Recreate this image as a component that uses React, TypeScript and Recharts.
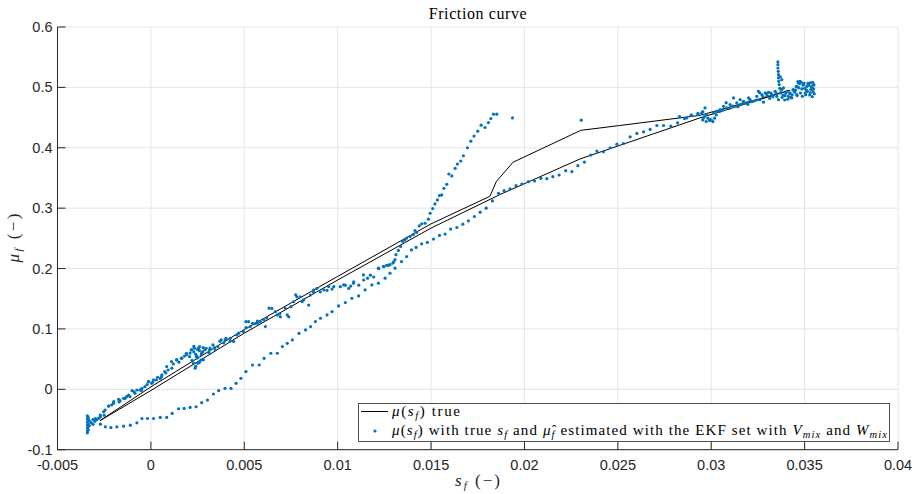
import React from "react"
import { ComposedChart, XAxis, YAxis, CartesianGrid, Line, Scatter } from "recharts"

const AXIS = "#262626"
const GRID = "#e5e5e5"
const BLUE = "#0072BD"
const SANS = "'Liberation Sans', Arial, sans-serif"
const SERIF = "'Liberation Serif', 'Times New Roman', serif"

const xTicks = [-0.005, 0, 0.005, 0.01, 0.015, 0.02, 0.025, 0.03, 0.035, 0.04]
const xTickLabels = ["-0.005", "0", "0.005", "0.01", "0.015", "0.02", "0.025", "0.03", "0.035", "0.04"]
const yTicks = [-0.1, 0, 0.1, 0.2, 0.3, 0.4, 0.5, 0.6]
const yTickLabels = ["-0.1", "0", "0.1", "0.2", "0.3", "0.4", "0.5", "0.6"]

// true mu(s_f): up the upper branch, back down the lower one
const trueCurve = [
  [-0.00273, -0.052], [0, 0.004], [0.005, 0.099], [0.01, 0.187], [0.015, 0.274],
  [0.01815, 0.3196], [0.0185, 0.3444], [0.01939, 0.376], [0.02302, 0.4289],
  [0.02504, 0.4366], [0.02939, 0.4537], [0.0342, 0.495],
  [0.02939, 0.4494], [0.02298, 0.3815], [0.01868, 0.3224], [0.015, 0.267],
  [0.01, 0.181], [0.005, 0.093], [0, -0.002], [-0.00273, -0.052],
]

// EKF estimate, read off in pieces
const startCluster = [
  [-0.0034, -0.044], [-0.0034, -0.049], [-0.0034, -0.054], [-0.0034, -0.059], [-0.0034, -0.064],
  [-0.0034, -0.069], [-0.0034, -0.072], [-0.00335, -0.047], [-0.00335, -0.057], [-0.00335, -0.062],
  [-0.00335, -0.067], [-0.0033, -0.052], [-0.0033, -0.06], [-0.0032, -0.055], [-0.0031, -0.05],
  [-0.0031, -0.058], [-0.003, -0.053], [-0.0029, -0.05], [-0.0028, -0.048],
]

const noisyLow = [
  [-0.00297, -0.0483], [-0.0027, -0.0455], [-0.00253, -0.0372], [-0.00226, -0.0278], [-0.00199, -0.0205],
  [-0.00173, -0.0167], [-0.00146, -0.015], [-0.00119, -0.0094], [-0.00101, -0.0022], [-0.00075, -0.0011],
  [-0.00048, 0.0017], [-0.00012, 0.0128], [0.00014, 0.0155], [0.00036, 0.02], [0.00059, 0.0239],
  [0.00085, 0.0377], [0.00112, 0.035], [0.00139, 0.0488], [0.00166, 0.0516], [0.00192, 0.0572],
  [0.00219, 0.0655], [0.00228, 0.0433], [0.00237, 0.035], [0.00246, 0.0544], [0.00255, 0.0683],
  [0.00272, 0.0599], [0.00281, 0.0488], [0.0029, 0.0655], [0.00317, 0.0683], [0.00344, 0.0655],
  [0.0037, 0.0794], [0.00397, 0.0821], [0.00424, 0.0794],
  [-0.00271, -0.0425], [-0.00245, -0.0343], [-0.00227, -0.0276], [-0.002, -0.0232], [-0.00165, -0.0188],
  [-0.00138, -0.0149], [-0.00112, -0.0122], [-0.00085, -0.0066], [-0.00059, -0.0011], [-0.00032, 0.0044],
  [-0.00014, 0.0127], [0.00004, 0.0099], [0.0003, 0.0155], [0.00057, 0.021], [0.00074, 0.0293],
  [0.00092, 0.032], [0.0011, 0.0459], [0.00137, 0.0486], [0.00163, 0.0514], [0.0019, 0.0597],
  [0.00207, 0.0541], [0.00216, 0.0652], [0.00234, 0.068], [0.00243, 0.0541], [0.00252, 0.0431],
  [0.00261, 0.0707], [0.00269, 0.0486], [0.00278, 0.0624], [0.00296, 0.068], [0.00314, 0.0652],
  [0.00332, 0.0735], [0.00358, 0.0707], [0.00376, 0.0818], [0.00402, 0.0845],
  [0.0021, 0.06], [0.0022, 0.048], [0.0023, 0.062], [0.0024, 0.058], [0.0025, 0.052], [0.0026, 0.064],
  [0.0027, 0.057], [0.0028, 0.069], [0.0024, 0.038], [0.0026, 0.045], [0.0023, 0.071], [0.0025, 0.066],
  [-0.0025, -0.043], [-0.0021, -0.026], [-0.0017, -0.021], [-0.0013, -0.012], [-0.0009, -0.004],
  [-0.0005, -0.002], [-0.0002, 0.008], [0.0001, 0.012], [0.0005, 0.018], [0.0008, 0.027],
  [0.0012, 0.042], [0.0015, 0.045], [0.0018, 0.055], [0.0031, 0.061], [0.0034, 0.069], [0.0039, 0.077],
]

const noisyMid = [
  [0.00425, 0.0845], [0.00443, 0.079], [0.00461, 0.09], [0.00496, 0.0955], [0.00523, 0.112],
  [0.00532, 0.104], [0.00559, 0.109], [0.00586, 0.112], [0.00613, 0.104], [0.00604, 0.115],
  [0.00648, 0.134], [0.00666, 0.1285], [0.00693, 0.12], [0.0072, 0.134], [0.00738, 0.12],
  [0.00764, 0.145], [0.00782, 0.153], [0.008, 0.153], [0.00818, 0.148], [0.00845, 0.1395],
  [0.00854, 0.156], [0.00889, 0.167], [0.00907, 0.1615], [0.00943, 0.164], [0.00979, 0.17],
  [0.01014, 0.17], [0.01041, 0.1725], [0.01059, 0.167], [0.01086, 0.178], [0.01113, 0.1725],
  [0.01139, 0.181], [0.01175, 0.189], [0.01193, 0.186], [0.0122, 0.2], [0.01247, 0.203],
  [0.01273, 0.2055], [0.013, 0.211],
  [0.00509, 0.1122], [0.00544, 0.1094], [0.00571, 0.1094], [0.00633, 0.1343], [0.00677, 0.1232],
  [0.0073, 0.1232], [0.00775, 0.1564], [0.0081, 0.1453], [0.00872, 0.1646], [0.00926, 0.1646],
  [0.00952, 0.1702], [0.01032, 0.1729], [0.01085, 0.1757], [0.01138, 0.1895], [0.01218, 0.2006],
  [0.0047, 0.093], [0.0051, 0.102], [0.0057, 0.113], [0.0062, 0.118], [0.0069, 0.125],
  [0.0075, 0.137], [0.0087, 0.161], [0.0097, 0.166], [0.0107, 0.171], [0.0116, 0.184],
]

const steepTrail = [
  [0.01245, 0.2036], [0.01262, 0.2053], [0.0128, 0.2064], [0.01295, 0.209], [0.01307, 0.2147],
  [0.01312, 0.2229], [0.01325, 0.23], [0.01337, 0.2367], [0.01348, 0.245], [0.0136, 0.2476],
  [0.0137, 0.2504], [0.01388, 0.253], [0.01405, 0.256], [0.01414, 0.263], [0.01423, 0.2597],
  [0.01437, 0.2707], [0.0145, 0.274], [0.01468, 0.275], [0.01486, 0.2817], [0.01495, 0.2916],
  [0.01509, 0.2993], [0.01521, 0.307], [0.01534, 0.3136], [0.01545, 0.3208], [0.01557, 0.3219],
  [0.01569, 0.3329], [0.01584, 0.3395], [0.01595, 0.3566], [0.01611, 0.3533], [0.01629, 0.3659],
  [0.01641, 0.373], [0.01659, 0.378], [0.01673, 0.3868], [0.01695, 0.4], [0.01713, 0.411],
  [0.0173, 0.4193], [0.0175, 0.4275], [0.01768, 0.4374], [0.01789, 0.4336], [0.01807, 0.4418],
  [0.0182, 0.4484], [0.01834, 0.4556], [0.01852, 0.4556],
]

const lowerTrail = [
  [-0.0027, -0.0577], [-0.00244, -0.0622], [-0.00214, -0.0633], [-0.00182, -0.0622], [-0.00146, -0.061],
  [-0.0011, -0.0594], [-0.00075, -0.0555], [-0.00048, -0.0483], [-0.00018, -0.0483], [0.00014, -0.0483],
  [0.0005, -0.0466], [0.00085, -0.0466], [0.00114, -0.04], [0.00148, -0.0322], [0.00178, -0.0316],
  [0.0021, -0.03], [0.00242, -0.0289], [0.00272, -0.0222], [0.00303, -0.0178], [0.00335, -0.0078],
  [0.00363, -0.0022], [0.00397, 0.0017], [0.00429, 0.0017], [0.00456, 0.0099], [0.00482, 0.0182],
  [0.00509, 0.0293], [0.00544, 0.0403], [0.0058, 0.0403], [0.00606, 0.0514], [0.00642, 0.0597],
  [0.00677, 0.0597], [0.00704, 0.0707], [0.0073, 0.0762], [0.00757, 0.0818], [0.00793, 0.0928],
  [0.00828, 0.0983], [0.00855, 0.1039], [0.00881, 0.1122], [0.00908, 0.1177], [0.00943, 0.1232],
  [0.0097, 0.1287], [0.01005, 0.1381], [0.01041, 0.1436], [0.01076, 0.1508], [0.01112, 0.1547],
  [0.01147, 0.1646], [0.01183, 0.1729], [0.01218, 0.1757], [0.01254, 0.184], [0.0128, 0.1923],
  [0.01307, 0.2006], [0.01342, 0.2116], [0.01369, 0.2199], [0.01395, 0.2309],
]

const returnTrail = [
  [0.0142, 0.235], [0.0145, 0.241], [0.0148, 0.2433], [0.01513, 0.2488], [0.01545, 0.2548],
  [0.01575, 0.257], [0.01605, 0.2653], [0.01638, 0.268], [0.0167, 0.2735], [0.017, 0.279],
  [0.01732, 0.2862], [0.01763, 0.2933], [0.01795, 0.2999], [0.01829, 0.312], [0.01861, 0.3247],
  [0.01891, 0.329], [0.01923, 0.3318], [0.01955, 0.3373], [0.01986, 0.34], [0.02021, 0.3439],
  [0.02054, 0.345], [0.02088, 0.3494], [0.0212, 0.3489], [0.02152, 0.3522], [0.02186, 0.3549],
  [0.02221, 0.362], [0.02254, 0.3604], [0.02286, 0.3703], [0.02321, 0.3763], [0.02355, 0.3879],
  [0.02388, 0.3945], [0.02423, 0.3934], [0.02459, 0.4], [0.02495, 0.406], [0.0253, 0.4071],
  [0.02566, 0.4182], [0.02602, 0.4237], [0.02638, 0.4264], [0.02673, 0.4303], [0.02709, 0.4369],
  [0.02745, 0.4369], [0.02784, 0.4358], [0.0282, 0.4413], [0.02857, 0.4484], [0.02893, 0.4534],
  [0.02929, 0.455],
]

const strayPoints = [[0.01936, 0.4495], [0.02304, 0.4457]]

const rightCluster = [
  [0.0283, 0.4516], [0.02869, 0.4494], [0.02893, 0.4544], [0.02929, 0.4571], [0.02955, 0.46],
  [0.02964, 0.4516], [0.02967, 0.466], [0.02982, 0.449], [0.03, 0.446], [0.03009, 0.4434],
  [0.02955, 0.4461], [0.02973, 0.4434], [0.02991, 0.445], [0.03018, 0.449], [0.03027, 0.4544],
  [0.03045, 0.46], [0.03063, 0.4626], [0.0308, 0.4747], [0.03098, 0.4654], [0.03116, 0.4692],
  [0.03143, 0.468], [0.0317, 0.4736], [0.03196, 0.472], [0.03214, 0.4763], [0.03241, 0.479],
  [0.03259, 0.4912], [0.03277, 0.4846], [0.03295, 0.49], [0.03313, 0.4818], [0.0333, 0.4846],
  [0.03348, 0.49],
  [0.02949, 0.4577], [0.02958, 0.4494], [0.02976, 0.4549], [0.02994, 0.4466], [0.03012, 0.4577],
  [0.0303, 0.4604], [0.03048, 0.4632], [0.03066, 0.4687], [0.03083, 0.466], [0.03101, 0.4715],
  [0.03119, 0.4687], [0.03137, 0.4743], [0.03155, 0.4715], [0.03173, 0.477], [0.0319, 0.4743],
  [0.03208, 0.4797], [0.03226, 0.477], [0.03244, 0.4852], [0.03253, 0.4935], [0.03271, 0.488],
  [0.03289, 0.4908], [0.03307, 0.4919], [0.03324, 0.488], [0.03342, 0.4935], [0.03351, 0.4852],
  [0.0336, 0.4797], [0.03369, 0.4908], [0.03378, 0.4963], [0.03387, 0.4991], [0.03405, 0.4935],
  [0.03422, 0.4908], [0.0344, 0.4963], [0.03458, 0.5018], [0.03467, 0.5074], [0.03476, 0.51],
  [0.03494, 0.5046], [0.03512, 0.5018], [0.0353, 0.5074], [0.03539, 0.4991], [0.03547, 0.5046],
  [0.0353, 0.4908], [0.03506, 0.488], [0.03488, 0.4852], [0.03458, 0.488], [0.03431, 0.4825],
  [0.03413, 0.4852], [0.03119, 0.4825], [0.03155, 0.4797], [0.032, 0.4825],
  [0.0342, 0.49], [0.03438, 0.4956], [0.03455, 0.5011], [0.03464, 0.5094], [0.03473, 0.5066],
  [0.03491, 0.5039], [0.035, 0.4984], [0.03509, 0.4956], [0.03518, 0.5066], [0.03527, 0.4874],
  [0.03536, 0.5011], [0.03545, 0.4929], [0.0355, 0.5039], [0.03541, 0.4846],
  [0.03425, 0.4835], [0.03433, 0.4875], [0.03447, 0.492], [0.0346, 0.4865], [0.03478, 0.4905],
  [0.03485, 0.4975], [0.03497, 0.5065], [0.03503, 0.4905], [0.03515, 0.4935], [0.03522, 0.5035],
  [0.03533, 0.4965], [0.03543, 0.5085], [0.03548, 0.4975], [0.03552, 0.4895], [0.03482, 0.5085],
  [0.03468, 0.4995], [0.03452, 0.4955], [0.0338, 0.4835], [0.03395, 0.4865], [0.0341, 0.4805],
  [0.034, 0.4905], [0.0326, 0.4795], [0.0328, 0.4755], [0.033, 0.4865], [0.0332, 0.4905],
]

const spike = [
  [0.03357, 0.5424], [0.03357, 0.5376], [0.03357, 0.5321], [0.03359, 0.5266], [0.0336, 0.5211],
  [0.0336, 0.5156], [0.03362, 0.51], [0.03364, 0.5046], [0.03368, 0.4984], [0.03375, 0.4956],
  [0.03384, 0.4874], [0.03393, 0.4791], [0.03378, 0.5128], [0.0337, 0.5176],
]

const toPoints = (pairs: number[][]) => pairs.map(([s, mu]) => ({ s, mu }))

const trueData = toPoints(trueCurve)
const ekfData = toPoints([
  ...startCluster, ...noisyLow, ...noisyMid, ...steepTrail,
  ...lowerTrail, ...returnTrail, ...strayPoints, ...rightCluster, ...spike,
])

const labelFor = (ticks: number[], labels: string[], v: number) => {
  const i = ticks.findIndex((t) => Math.abs(t - v) < 1e-9)
  return i >= 0 ? labels[i] : String(v)
}

const XTick = ({ x, y, payload }: any) => (
  <g>
    <line x1={x} x2={x} y1={y} y2={y - 8} stroke={AXIS} strokeWidth={1} />
    <text x={x} y={y + 20} textAnchor="middle" fontFamily={SANS} fontSize={14.5} fill={AXIS}>
      {labelFor(xTicks, xTickLabels, payload.value)}
    </text>
  </g>
)

const YTick = ({ x, y, payload }: any) => (
  <g>
    <line x1={x} x2={x + 8} y1={y} y2={y} stroke={AXIS} strokeWidth={1} />
    <text x={x - 5} y={y + 5} textAnchor="end" fontFamily={SANS} fontSize={14.5} fill={AXIS}>
      {labelFor(yTicks, yTickLabels, payload.value)}
    </text>
  </g>
)

// text made of roman / italic / italic-subscript pieces
type Seg = [string, "r" | "i" | "s"]
const MathText = ({ segs, subSize, ...rest }: any) => {
  let down = false
  return (
    <text {...rest}>
      {segs.map(([t, k]: Seg, i: number) => {
        const sub = k === "s"
        const dy = sub && !down ? 3 : !sub && down ? -3 : undefined
        down = sub
        return (
          <tspan key={i} dy={dy} fontStyle={k === "r" ? "normal" : "italic"} fontSize={sub ? subSize : undefined}>
            {t}
          </tspan>
        )
      })}
    </text>
  )
}

const xLabel: Seg[] = [["s", "i"], ["f", "s"], [" (−)", "r"]]
const yLabel: Seg[] = [["μ", "i"], ["f", "s"], [" (−)", "r"]]
const legendTrue: Seg[] = [["μ", "i"], ["(", "r"], ["s", "i"], ["f", "s"], [") true", "r"]]
const legendEkf: Seg[] = [
  ["μ", "i"], ["(", "r"], ["s", "i"], ["f", "s"], [") with true ", "r"], ["s", "i"], ["f", "s"],
  [" and ", "r"], ["μ\u0302", "i"], ["f", "s"], [" estimated with the EKF set with ", "r"],
  ["V", "i"], ["mix", "s"], [" and ", "r"], ["W", "i"], ["mix", "s"],
]

const Dot = (props: any) => <circle cx={props.cx} cy={props.cy} r={1.6} fill={BLUE} />

export default function App() {
  return (
    <div style={{ position: "relative", width: 917, height: 494, overflow: "hidden", background: "#fff" }}>
      <style>{"html, body { margin: 0; padding: 0; overflow: hidden; }"}</style>
      <ComposedChart width={917} height={494} data={trueData}
        margin={{ top: 27, right: 19, bottom: 0, left: 0 }}>
        <CartesianGrid stroke={GRID} strokeWidth={1} />
        <XAxis dataKey="s" type="number" domain={[-0.005, 0.04]} ticks={xTicks}
          height={44.3} allowDataOverflow stroke={AXIS} tickLine={false} tickSize={0} tickMargin={0}
          tick={<XTick />} interval={0} />
        <YAxis dataKey="mu" type="number" domain={[-0.1, 0.6]} ticks={yTicks}
          width={57.5} allowDataOverflow stroke={AXIS} tickLine={false} tickSize={0} tickMargin={0}
          tick={<YTick />} interval={0} />
        <Line data={trueData} dataKey="mu" stroke="#000" strokeWidth={1} dot={false}
          isAnimationActive={false} type="linear" />
        <Scatter data={ekfData} dataKey="mu" shape={<Dot />} isAnimationActive={false} />
      </ComposedChart>
      <svg width={917} height={494} style={{ position: "absolute", left: 0, top: 0, pointerEvents: "none" }}>
        <text x={478} y={19} textAnchor="middle" fontFamily={SERIF} fontSize={16}
          letterSpacing={0.6} fill="#000">Friction curve</text>
        <MathText segs={xLabel} subSize={11} x={477.5} y={486} textAnchor="middle"
          fontFamily={SERIF} fontSize={17} fill={AXIS} textLength={45} lengthAdjust="spacing" />
        <MathText segs={yLabel} subSize={11} x={19} y={238} transform="rotate(-90, 19, 238)"
          textAnchor="middle" fontFamily={SERIF} fontSize={17} fill={AXIS} textLength={49} lengthAdjust="spacing" />
        <rect x={358.5} y={403.5} width={531} height={38} fill="#fff" stroke={AXIS} strokeWidth={0.8} />
        <line x1={361} x2={388} y1={411.5} y2={411.5} stroke="#000" strokeWidth={1} />
        <MathText segs={legendTrue} subSize={10.5} x={392} y={416} fontFamily={SERIF} fontSize={15}
          fill="#000" textLength={68} lengthAdjust="spacing" />
        <circle cx={375} cy={431} r={1.6} fill={BLUE} />
        <MathText segs={legendEkf} subSize={10.5} x={392} y={435} fontFamily={SERIF} fontSize={15}
          fill="#000" textLength={495} lengthAdjust="spacing" />
      </svg>
    </div>
  )
}
